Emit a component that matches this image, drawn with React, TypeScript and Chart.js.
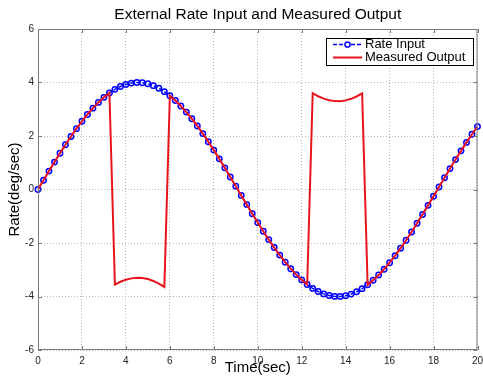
import React, { useEffect, useRef } from "react";
import { Chart, registerables } from "chart.js";

Chart.register(...registerables);

const TITLE = "External Rate Input and Measured Output";
const X_LABEL = "Time(sec)";
const Y_LABEL = "Rate(deg/sec)";
const SERIES_NAMES = ["Rate Input", "Measured Output"];

const timeSec: number[] = [
  0, 0.25, 0.5, 0.75, 1, 1.25, 1.5, 1.75, 2, 2.25, 2.5, 2.75, 3, 3.25, 3.5, 3.75,
  4, 4.25, 4.5, 4.75, 5, 5.25, 5.5, 5.75, 6, 6.25, 6.5, 6.75, 7, 7.25, 7.5, 7.75,
  8, 8.25, 8.5, 8.75, 9, 9.25, 9.5, 9.75, 10, 10.25, 10.5, 10.75, 11, 11.25, 11.5, 11.75,
  12, 12.25, 12.5, 12.75, 13, 13.25, 13.5, 13.75, 14, 14.25, 14.5, 14.75, 15, 15.25, 15.5, 15.75,
  16, 16.25, 16.5, 16.75, 17, 17.25, 17.5, 17.75, 18, 18.25, 18.5, 18.75, 19, 19.25, 19.5, 19.75, 20,
];

const rateInput: number[] = [
  0, 0.345, 0.688, 1.025, 1.355, 1.675, 1.982, 2.274, 2.55, 2.806, 3.042, 3.256, 3.445, 3.609, 3.743, 3.85,
  3.929, 3.978, 4.0, 3.99, 3.951, 3.882, 3.784, 3.658, 3.505, 3.325, 3.121, 2.894, 2.645, 2.376, 2.09, 1.787,
  1.472, 1.145, 0.81, 0.469, 0.125, -0.221, -0.565, -0.904, -1.237, -1.561, -1.873, -2.171, -2.452, -2.716, -2.96, -3.181,
  -3.379, -3.551, -3.697, -3.814, -3.903, -3.964, -3.996, -3.997, -3.968, -3.91, -3.823, -3.707, -3.563, -3.393, -3.198, -2.979,
  -2.737, -2.475, -2.195, -1.898, -1.587, -1.264, -0.932, -0.593, -0.25, 0.096, 0.441, 0.782, 1.118, 1.445, 1.761, 2.065, 2.352,
];

const measuredOutput: number[] = [
  0, 0.345, 0.688, 1.025, 1.355, 1.675, 1.982, 2.274, 2.55, 2.806, 3.042, 3.256, 3.445, 3.609, -3.557, -3.45,
  -3.371, -3.322, -3.3, -3.31, -3.349, -3.418, -3.516, -3.642, 3.505, 3.325, 3.121, 2.894, 2.645, 2.376, 2.09, 1.787,
  1.472, 1.145, 0.81, 0.469, 0.125, -0.221, -0.565, -0.904, -1.237, -1.561, -1.873, -2.171, -2.452, -2.716, -2.96, -3.181,
  -3.379, -3.551, 3.603, 3.486, 3.397, 3.336, 3.304, 3.303, 3.332, 3.39, 3.477, 3.593, -3.563, -3.393, -3.198, -2.979,
  -2.737, -2.475, -2.195, -1.898, -1.587, -1.264, -0.932, -0.593, -0.25, 0.096, 0.441, 0.782, 1.118, 1.445, 1.761, 2.065, 2.352,
];

const xTicks: number[] = [0, 2, 4, 6, 8, 10, 12, 14, 16, 18, 20];
const yTicks: number[] = [-6, -4, -2, 0, 2, 4, 6];

const FONT = 'Arial, "Liberation Sans", Helvetica, sans-serif';
const BLUE = "#0000ff";
const RED = "#e8141c";
const FRAME = "#7a7a7a";

const framePlugin = {
  id: "matlabFrame",
  afterDraw(chart: any) {
    const { ctx, chartArea: a, scales } = chart;
    const xs = scales.x;
    const ys = scales.y;
    ctx.save();
    ctx.strokeStyle = FRAME;
    ctx.lineWidth = 1;
    ctx.setLineDash([]);
    ctx.strokeRect(a.left + 0.5, a.top + 0.5, a.right - a.left - 1, a.bottom - a.top - 1);
    const tl = 4;
    ctx.beginPath();
    xTicks.forEach((v) => {
      const px = Math.round(xs.getPixelForValue(v)) + 0.5;
      ctx.moveTo(px, a.bottom);
      ctx.lineTo(px, a.bottom - tl);
      ctx.moveTo(px, a.top);
      ctx.lineTo(px, a.top + tl);
    });
    yTicks.forEach((v) => {
      const py = Math.round(ys.getPixelForValue(v)) + 0.5;
      ctx.moveTo(a.left, py);
      ctx.lineTo(a.left + tl, py);
      ctx.moveTo(a.right, py);
      ctx.lineTo(a.right - tl, py);
    });
    ctx.stroke();

    ctx.fillStyle = "#000";
    ctx.font = `15.5px ${FONT}`;
    ctx.textAlign = "center";
    ctx.textBaseline = "middle";
    ctx.fillText(TITLE, (a.left + a.right) / 2, 15);

    const lx = 326;
    const ly = 38;
    const lw = 147;
    const lh = 27;
    ctx.fillStyle = "#fff";
    ctx.fillRect(lx, ly, lw, lh);
    ctx.strokeStyle = "#000";
    ctx.lineWidth = 1;
    ctx.strokeRect(lx + 0.5, ly + 0.5, lw, lh);
    const rows = [ly + 6.5, ly + 19.5];
    ctx.strokeStyle = BLUE;
    ctx.lineWidth = 1.5;
    ctx.setLineDash([4, 2]);
    ctx.beginPath();
    ctx.moveTo(333, rows[0]);
    ctx.lineTo(362, rows[0]);
    ctx.stroke();
    ctx.setLineDash([]);
    ctx.beginPath();
    ctx.arc(347.5, rows[0], 2.6, 0, Math.PI * 2);
    ctx.fillStyle = "#fff";
    ctx.fill();
    ctx.stroke();
    ctx.strokeStyle = RED;
    ctx.lineWidth = 2;
    ctx.beginPath();
    ctx.moveTo(333, rows[1]);
    ctx.lineTo(362, rows[1]);
    ctx.stroke();
    ctx.fillStyle = "#000";
    ctx.font = `13px ${FONT}`;
    ctx.textAlign = "left";
    ctx.textBaseline = "middle";
    ctx.fillText(SERIES_NAMES[0], 365, rows[0]);
    ctx.fillText(SERIES_NAMES[1], 365, rows[1]);
    ctx.restore();
  },
};

export default function App() {
  const canvasRef = useRef<HTMLCanvasElement | null>(null);

  useEffect(() => {
    document.body.style.margin = "0";
    const canvas = canvasRef.current;
    if (!canvas) return;
    const inputPts = timeSec.map((t, i) => ({ x: t, y: rateInput[i] }));
    const outPts = timeSec.map((t, i) => ({ x: t, y: measuredOutput[i] }));
    const chart = new Chart(canvas, {
      type: "line",
      data: {
        datasets: [
          {
            label: SERIES_NAMES[0],
            data: inputPts,
            borderColor: BLUE,
            borderWidth: 1.5,
            borderDash: [4, 2],
            pointRadius: 2.7,
            pointBorderWidth: 1.5,
            pointBorderColor: BLUE,
            pointBackgroundColor: "rgba(0,0,0,0)",
            fill: false,
            tension: 0,
            order: 2,
            clip: false,
          },
          {
            label: SERIES_NAMES[1],
            data: outPts,
            borderColor: RED,
            borderWidth: 2,
            pointRadius: 0,
            fill: false,
            tension: 0,
            order: 1,
          },
        ],
      },
      options: {
        responsive: false,
        animation: false,
        events: [],
        layout: { padding: { top: 29, right: 5, left: 0, bottom: 0 } },
        plugins: {
          legend: { display: false },
          title: { display: false },
          tooltip: { enabled: false },
        },
        scales: {
          x: {
            type: "linear",
            min: 0,
            max: 20,
            afterBuildTicks: (s: any) => {
              s.ticks = xTicks.map((v) => ({ value: v }));
            },
            afterFit: (s: any) => {
              s.height = 33;
              s.paddingLeft = 0;
              s.paddingRight = 0;
            },
            ticks: {
              autoSkip: false,
              maxRotation: 0,
              padding: 5,
              color: "#222",
              font: { family: FONT, size: 10 },
            },
            grid: {
              color: "#b8b8b8",
              lineWidth: 1,
              drawTicks: false,
            },
            border: { display: false, dash: [1, 2] },
            title: {
              display: true,
              text: X_LABEL,
              color: "#000",
              font: { family: FONT, size: 15 },
              padding: { top: 0, bottom: 6 },
            },
          },
          y: {
            type: "linear",
            min: -6,
            max: 6,
            afterBuildTicks: (s: any) => {
              s.ticks = yTicks.map((v) => ({ value: v }));
            },
            afterFit: (s: any) => {
              s.width = 38;
            },
            ticks: {
              padding: 4,
              color: "#222",
              font: { family: FONT, size: 10 },
            },
            grid: {
              color: "#b8b8b8",
              lineWidth: 1,
              drawTicks: false,
            },
            border: { display: false, dash: [1, 2] },
            title: {
              display: true,
              text: Y_LABEL,
              color: "#000",
              font: { family: FONT, size: 15 },
              padding: { top: 6, bottom: 0 },
            },
          },
        },
      },
      plugins: [framePlugin],
    });
    return () => chart.destroy();
  }, []);

  return (
    <div style={{ position: "absolute", left: 0, top: 0, width: 483, height: 383, background: "#fff" }}>
      <canvas ref={canvasRef} width={483} height={383} style={{ display: "block" }} />
    </div>
  );
}
